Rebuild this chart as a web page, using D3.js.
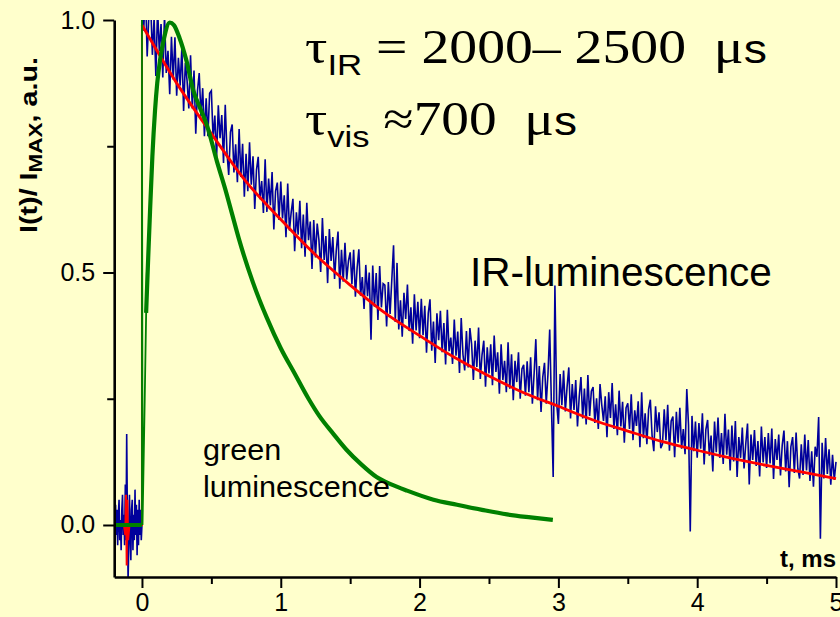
<!DOCTYPE html>
<html>
<head>
<meta charset="utf-8">
<script src="https://cdn.jsdelivr.net/npm/d3@7/dist/d3.min.js"></script>
<style>
  html, body { margin: 0; padding: 0; background: #ffffcc; }
  svg { display: block; }
</style>
</head>
<body>
<svg id="chart" width="840" height="617"></svg>
<script>
// ---- data ----
const xTicks = [0, 1, 2, 3, 4, 5];
const xMinorTicks = [0.5, 1.5, 2.5, 3.5, 4.5];
const yTicks = [0.0, 0.5, 1.0];
const yMinorTicks = [0.25, 0.75];

// IR signal, pre-trigger part (t = -0.20 ... 0.00 ms, step 0.005)
const irPreStart = -0.2, irPreStep = 0.005;
const irPre = [0.01, -0.03, 0.04, -0.02, 0.03, -0.04, 0.02, 0.05, -0.03, 0.01,
  -0.05, 0.03, 0.06, -0.02, 0.02, -0.04, 0.08, -0.03, 0.18, 0.02,
  -0.11, -0.04, 0.06, -0.02, -0.07, 0.03, 0.05, -0.05, 0.02, -0.03,
  0.07, -0.02, 0.04, -0.06, 0.03, -0.04, 0.05, -0.02, 0.03, -0.03, 0.0];

// IR signal after the pulse (t = 0 ... 5 ms, step 0.0125), one row per 0.25 ms
const irStart = 0, irStep = 0.0125;
const irValues = [
  1.055, 0.979, 1.064, 0.928, 1.012, 1.036, 0.931, 1.005, 0.889, 1.023, 0.938, 0.992, 0.886, 1.01, 0.895, 0.939, 0.853, 0.967, 0.882, 0.966,
  0.85, 0.925, 0.87, 0.945, 0.82, 0.915, 0.88, 0.825, 0.93, 0.825, 0.90, 0.775, 0.86, 0.895, 0.81, 0.865, 0.77, 0.845, 0.77, 0.855,
  0.86, 0.765, 0.811, 0.726, 0.831, 0.766, 0.812, 0.717, 0.832, 0.737, 0.693, 0.778, 0.793, 0.698, 0.754, 0.679, 0.784, 0.689, 0.755, 0.65,
  0.735, 0.661, 0.758, 0.674, 0.73, 0.626, 0.703, 0.729, 0.645, 0.681, 0.618, 0.724, 0.62, 0.686, 0.633, 0.699, 0.585, 0.661, 0.678, 0.604,
  0.68, 0.607, 0.653, 0.57, 0.676, 0.583, 0.619, 0.646, 0.542, 0.619, 0.575, 0.642, 0.548, 0.615, 0.531, 0.638, 0.564, 0.601, 0.507, 0.604,
  0.53, 0.597, 0.564, 0.501, 0.608, 0.525, 0.572, 0.479, 0.586, 0.523, 0.57, 0.487, 0.544, 0.581, 0.468, 0.545, 0.482, 0.559, 0.486, 0.523,
  0.54, 0.477, 0.545, 0.452, 0.509, 0.546, 0.454, 0.491, 0.428, 0.515, 0.453, 0.50, 0.367, 0.514, 0.432, 0.499, 0.406, 0.513, 0.431, 0.478,
  0.475, 0.393, 0.481, 0.418, 0.486, 0.554, 0.402, 0.519, 0.387, 0.445, 0.373, 0.46, 0.408, 0.476, 0.384, 0.431, 0.359, 0.457, 0.385, 0.442,
  0.37, 0.448, 0.376, 0.434, 0.341, 0.419, 0.447, 0.345, 0.403, 0.321, 0.419, 0.366, 0.424, 0.342, 0.40, 0.318, 0.426, 0.344, 0.371, 0.319,
  0.407, 0.335, 0.383, 0.301, 0.41, 0.338, 0.306, 0.384, 0.312, 0.39, 0.358, 0.287, 0.365, 0.313, 0.391, 0.289, 0.337, 0.365, 0.274, 0.352,
  0.30, 0.358, 0.277, 0.375, 0.303, 0.342, 0.26, 0.358, 0.287, 0.325, 0.263, 0.362, 0.27, 0.338, 0.247, 0.325, 0.283, 0.342, 0.25, 0.309,
  0.317, 0.256, 0.324, 0.263, 0.332, 0.24, 0.299, 0.368, 0.247, 0.315, 0.224, 0.293, 0.321, 0.24, 0.299, 0.387, 0.236, 0.095, 0.474, 0.242,
  0.20, 0.299, 0.237, 0.306, 0.225, 0.273, 0.312, 0.211, 0.279, 0.228, 0.287, 0.195, 0.254, 0.293, 0.211, 0.27, 0.199, 0.297, 0.216, 0.265,
  0.273, 0.202, 0.251, 0.19, 0.279, 0.238, 0.206, 0.255, 0.174, 0.263, 0.212, 0.281, 0.19, 0.239, 0.178, 0.266, 0.195, 0.244, 0.163, 0.232,
  0.241, 0.19, 0.259, 0.168, 0.227, 0.196, 0.245, 0.154, 0.263, 0.172, 0.221, 0.16, 0.229, 0.248, 0.177, 0.146, 0.235, 0.184, 0.223, 0.152,
  0.16, 0.229, 0.168, 0.238, 0.147, 0.206, 0.215, 0.134, 0.224, 0.163, 0.232, 0.151, 0.19, 0.14, 0.269, 0.198, -0.013, 0.216, 0.146, 0.205,
  0.133, 0.202, 0.151, 0.221, 0.12, 0.189, 0.208, 0.137, 0.177, 0.106, 0.205, 0.144, 0.213, 0.133, 0.182, 0.121, 0.22, 0.139, 0.189, 0.108,
  0.197, 0.126, 0.206, 0.095, 0.174, 0.133, 0.193, 0.112, 0.161, 0.201, 0.08, 0.179, 0.129, 0.188, 0.117, 0.166, 0.096, 0.195, 0.124, 0.174,
  0.113, 0.182, 0.122, 0.191, 0.091, 0.17, 0.129, 0.179, 0.098, 0.158, 0.187, 0.106, 0.166, 0.075, 0.155, 0.174, 0.103, 0.183, 0.112, 0.092,
  0.16, 0.099, 0.179, 0.108, 0.168, 0.087, 0.146, 0.076, 0.155, 0.135, 0.214, -0.027, 0.163, 0.092, 0.172, 0.101, 0.15, 0.08, 0.139, 0.089,
  0.125
];

// red exponential fit
const fitPreT = [-0.2, -0.13, -0.12, -0.115, -0.11, -0.105, -0.1, -0.09, 0, 0];
const fitPreV = [0, 0, -0.02, 0.06, -0.08, 0.05, -0.03, 0, 0, 0.99];
const fitT = [0, 0.25, 0.5, 0.75, 1.0, 1.25, 1.5, 1.75, 2.0, 2.25, 2.5,
  2.75, 3.0, 3.25, 3.5, 3.75, 4.0, 4.25, 4.5, 4.75, 5.0];
const fitV = [0.99, 0.875, 0.775, 0.68, 0.605, 0.535, 0.475, 0.42, 0.375, 0.332, 0.295,
  0.262, 0.235, 0.208, 0.186, 0.165, 0.148, 0.132, 0.118, 0.105, 0.092];

// green (visible) luminescence
const greenBaseT = [-0.2, 0];
const greenBaseV = [0, 0];
const greenRiseT = [0, 0, 0.004, 0.02, 0.035];
const greenRiseV = [0, 1.0, 0.0, 0.25, 0.5];
const greenT = [0.03, 0.045, 0.058, 0.075, 0.094, 0.11, 0.13, 0.16, 0.2, 0.23, 0.27, 0.32, 0.37,
  0.42, 0.47, 0.54, 0.6, 0.65, 0.7, 0.8, 0.9, 1.0, 1.1, 1.2, 1.28, 1.38, 1.47,
  1.58, 1.69, 1.8, 1.91, 2.1, 2.27, 2.45, 2.63, 2.8, 2.96];
const greenV = [0.42, 0.53, 0.62, 0.73, 0.82, 0.875, 0.92, 0.965, 0.995, 0.99, 0.965, 0.92, 0.86,
  0.825, 0.79, 0.72, 0.665, 0.615, 0.565, 0.48, 0.41, 0.35, 0.3, 0.25, 0.215, 0.18, 0.15,
  0.12, 0.095, 0.08, 0.068, 0.05, 0.04, 0.03, 0.021, 0.015, 0.01];

// ---- chart ----
const svg = d3.select('#chart');
svg.append('rect').attr('width', 840).attr('height', 617).attr('fill', '#ffffcc');

const x = d3.scaleLinear().domain([-0.2, 5]).range([114.2, 836]);
const y = d3.scaleLinear().domain([-0.103, 1.0]).range([577, 20]);

svg.append('defs').append('clipPath').attr('id', 'plot')
  .append('rect').attr('x', 114).attr('y', 20).attr('width', 726).attr('height', 557);

const toPts = (ts, vs) => ts.map((t, i) => [t, vs[i]]);
const irPts = irPre.map((v, i) => [irPreStart + i * irPreStep, v])
  .concat(irValues.map((v, i) => [irStart + i * irStep, v]));

const line = d3.line().x(d => x(d[0])).y(d => y(d[1]));
const smooth = d3.line().x(d => x(d[0])).y(d => y(d[1])).curve(d3.curveMonotoneX);

const plot = svg.append('g').attr('clip-path', 'url(#plot)');

// IR luminescence (noisy)
plot.append('path')
  .datum(irPts)
  .attr('fill', 'none')
  .attr('stroke', '#00009c')
  .attr('stroke-width', 1.6)
  .attr('d', line);

// fit
plot.append('path')
  .datum(toPts(fitPreT, fitPreV))
  .attr('fill', 'none')
  .attr('stroke', '#ff0000')
  .attr('stroke-width', 2)
  .attr('d', line);
plot.append('path')
  .datum(toPts(fitT, fitV))
  .attr('fill', 'none')
  .attr('stroke', '#ff0000')
  .attr('stroke-width', 2.8)
  .attr('d', smooth);

// green luminescence
plot.append('path')
  .datum(toPts(greenBaseT, greenBaseV))
  .attr('fill', 'none')
  .attr('stroke', '#008000')
  .attr('stroke-width', 4)
  .attr('d', line);
plot.append('path')
  .datum(toPts(greenRiseT, greenRiseV))
  .attr('fill', 'none')
  .attr('stroke', '#008000')
  .attr('stroke-width', 1.8)
  .attr('d', line);
plot.append('path')
  .datum(toPts(greenT, greenV))
  .attr('fill', 'none')
  .attr('stroke', '#008000')
  .attr('stroke-width', 4.2)
  .attr('d', smooth);

// axes
const styleAxis = g => {
  g.select('.domain').attr('stroke-width', 2.6).attr('stroke', '#000');
  g.selectAll('.tick line').attr('stroke-width', 2).attr('stroke', '#000');
  g.selectAll('.tick text')
    .attr('fill', '#000')
    .attr('font-family', 'Liberation Sans, Arial, sans-serif')
    .attr('font-size', 25);
};

svg.append('g')
  .attr('transform', `translate(0,${y.range()[0]})`)
  .call(d3.axisBottom(x).tickValues(xMinorTicks).tickSize(7).tickFormat(''))
  .call(g => g.select('.domain').remove())
  .call(styleAxis);
svg.append('g')
  .attr('transform', `translate(0,${y.range()[0]})`)
  .call(d3.axisBottom(x).tickValues(xTicks).tickSize(11).tickSizeOuter(0)
    .tickPadding(5).tickFormat(d3.format('d')))
  .call(styleAxis);

svg.append('g')
  .attr('transform', `translate(${x.range()[0]},0)`)
  .call(d3.axisLeft(y).tickValues(yMinorTicks).tickSize(7).tickFormat(''))
  .call(g => g.select('.domain').remove())
  .call(styleAxis);
svg.append('g')
  .attr('transform', `translate(${x.range()[0]},0)`)
  .call(d3.axisLeft(y).tickValues(yTicks).tickSize(11).tickSizeOuter(0)
    .tickPadding(8).tickFormat(d3.format('.1f')))
  .call(styleAxis);

// stretch a text group horizontally so it covers the given width
function fit(g, width) {
  const w = g.node().getBBox().width;
  const t = g.attr('transform') || '';
  g.attr('transform', `${t} scale(${width / w},1)`);
}

const sans = 'Liberation Sans, Arial, sans-serif';
const serif = 'Liberation Serif, Times New Roman, serif';

// axis titles
const xt = svg.append('g').attr('transform', 'translate(836,567)');
xt.append('text')
  .attr('text-anchor', 'end')
  .attr('font-family', sans).attr('font-weight', 'bold').attr('font-size', 24)
  .text('t, ms');

const yt = svg.append('g').attr('transform', 'translate(37,233) rotate(-90)');
const ytText = yt.append('text')
  .attr('font-family', sans).attr('font-weight', 'bold').attr('font-size', 23);
ytText.append('tspan').text('I(t)/ I');
ytText.append('tspan').attr('font-size', 18).attr('dy', 5).text('MAX');
ytText.append('tspan').attr('dy', -5).text(', a.u.');
fit(yt, 176);

// tau annotations
function tauLine(sub, rest, bx, by, width) {
  const g = svg.append('g').attr('transform', `translate(${bx},${by})`);
  const t = g.append('text').style('white-space', 'pre').attr('fill', '#000');
  t.append('tspan').attr('font-family', serif).attr('font-size', 48).text('\u03c4');
  t.append('tspan').attr('font-family', sans).attr('font-size', 30).attr('dy', 12).text(sub);
  t.append('tspan').attr('font-family', serif).attr('font-size', 48).attr('dy', -12).text(rest);
  t.append('tspan').attr('font-family', serif).attr('font-size', 48).text('\u03bc');
  t.append('tspan').attr('font-family', sans).attr('font-size', 40).text('s');
  fit(g, width);
}
tauLine('IR', ' = 2000\u2013 2500  ', 305, 63, 462);
tauLine('vis', ' \u2248700  ', 305, 135, 272);

// curve labels
const ir = svg.append('g').attr('transform', 'translate(470,286)');
ir.append('text').attr('font-family', sans).attr('font-size', 40).text('IR-luminescence');
fit(ir, 302);

const gl = svg.append('g').attr('transform', 'translate(203,460)');
gl.append('text').attr('font-family', sans).attr('font-size', 29).text('green');
gl.append('text').attr('font-family', sans).attr('font-size', 29).attr('y', 37).text('luminescence');
fit(gl, 187);
</script>
</body>
</html>
